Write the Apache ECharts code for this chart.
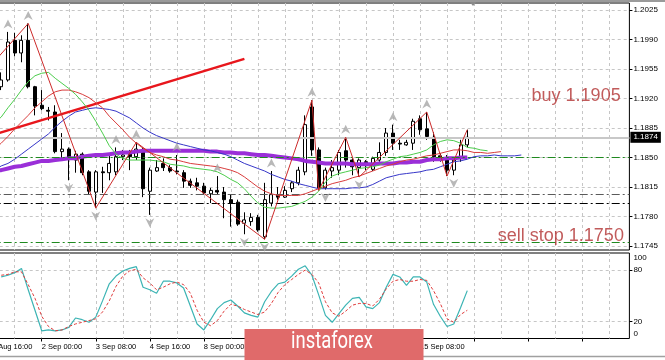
<!DOCTYPE html>
<html><head><meta charset="utf-8">
<script src="https://cdn.jsdelivr.net/npm/echarts@6/dist/echarts.min.js"></script>
<style>html,body{margin:0;padding:0;background:#fff;overflow:hidden}#c{width:665px;height:360px}</style>
</head><body><div id="c"></div>
<script>
// ---- axis / tick data ----
const firstBar = -2, lastBar = 93;
const tickLabels = ['31 Aug 16:00','2 Sep 00:00','3 Sep 08:00','4 Sep 16:00','8 Sep 00:00','9 Sep 08:00','10 Sep 16:00','14 Sep 00:00','15 Sep 08:00'];
const priceTicks = [1.1745,1.1780,1.1815,1.1850,1.1885,1.1920,1.1955,1.1990,1.2025];
const stochLabels = [0,20,80,100];
const stochLevels = [20,80];

// ---- EURUSD H4 candles, bars 0..69 ----
const open  = [1.1934,1.1942,1.1989,1.1974,1.1989,1.1934,1.1912,1.1906,1.1904,1.1857,
               1.1860,1.1847,1.1854,1.1833,1.1809,1.1833,1.1832,1.1833,1.1851,1.1855,
               1.1851,1.1859,1.1810,1.1834,1.1843,1.1838,1.1834,1.1832,1.1822,1.1820,
               1.1816,1.1807,1.1811,1.1809,1.1800,1.1797,1.1772,1.1774,1.1779,1.1756,
               1.1796,1.1806,1.1803,1.1813,1.1820,1.1833,1.1910,1.1859,1.1814,1.1834,
               1.1835,1.1858,1.1847,1.1838,1.1845,1.1836,1.1847,1.1856,1.1879,1.1867,
               1.1865,1.1867,1.1896,1.1884,1.1874,1.1852,1.1849,1.1835,1.1849,1.1865];
const high  = [1.1951,1.1999,1.1998,1.1995,1.2009,1.1935,1.1930,1.1910,1.1912,1.1879,
               1.1862,1.1858,1.1856,1.1835,1.1835,1.1839,1.1852,1.1862,1.1859,1.1859,
               1.1868,1.1862,1.1838,1.1847,1.1849,1.1841,1.1853,1.1835,1.1825,1.1826,
               1.1820,1.1814,1.1828,1.1815,1.1806,1.1800,1.1785,1.1784,1.1782,1.1820,
               1.1834,1.1815,1.1816,1.1822,1.1839,1.1900,1.1918,1.1862,1.1838,1.1847,
               1.1859,1.1874,1.1849,1.1849,1.1847,1.1851,1.1868,1.1885,1.1889,1.1871,
               1.1871,1.1896,1.1900,1.1904,1.1880,1.1855,1.1853,1.1849,1.1871,1.1883];
const low   = [1.1930,1.1940,1.1970,1.1963,1.1932,1.1900,1.1906,1.1894,1.1855,1.1849,
               1.1823,1.1832,1.1829,1.1806,1.1790,1.1808,1.1823,1.1829,1.1847,1.1835,
               1.1847,1.1803,1.1782,1.1833,1.1834,1.1832,1.1830,1.1814,1.1814,1.1811,
               1.1806,1.1796,1.1806,1.1778,1.1768,1.1769,1.1759,1.1769,1.1762,1.1753,
               1.1792,1.1800,1.1802,1.1809,1.1817,1.1829,1.1852,1.1811,1.1812,1.1826,
               1.1829,1.1838,1.1829,1.1827,1.1835,1.1834,1.1845,1.1852,1.1859,1.1859,
               1.1864,1.1859,1.1877,1.1871,1.1845,1.1845,1.1828,1.1829,1.1845,1.1862];
const close = [1.1942,1.1987,1.1974,1.1989,1.1934,1.1911,1.1908,1.1905,1.1857,1.1860,
               1.1848,1.1854,1.1832,1.1810,1.1833,1.1832,1.1843,1.1851,1.1853,1.1851,
               1.1860,1.1813,1.1835,1.1838,1.1838,1.1834,1.1833,1.1822,1.1817,1.1816,
               1.1808,1.1811,1.1809,1.1800,1.1796,1.1771,1.1776,1.1779,1.1764,1.1800,
               1.1806,1.1803,1.1811,1.1820,1.1835,1.1889,1.1859,1.1814,1.1835,1.1838,
               1.1856,1.1847,1.1839,1.1847,1.1841,1.1849,1.1856,1.1879,1.1867,1.1866,
               1.1868,1.1893,1.1883,1.1875,1.1851,1.1847,1.1835,1.1847,1.1865,1.1874];

// ---- moving averages (from bar -2) ----
const maPurple = [1.1833,1.1834,1.1835,1.1837,1.1839,1.1840,1.1842,1.1844,1.1846,1.1846,
                  1.1847,1.1848,1.1849,1.1849,1.1851,1.1852,1.1853,1.1853,1.1854,1.1855,
                  1.1856,1.1856,1.1857,1.1858,1.1858,1.1858,1.1858,1.1858,1.1858,1.1858,
                  1.1858,1.1858,1.1858,1.1857,1.1857,1.1856,1.1856,1.1855,1.1855,1.1854,
                  1.1853,1.1853,1.1852,1.1851,1.1850,1.1849,1.1848,1.1846,1.1845,1.1844,
                  1.1843,1.1843,1.1843,1.1843,1.1842,1.1842,1.1842,1.1842,1.1843,1.1843,
                  1.1843,1.1844,1.1844,1.1845,1.1845,1.1847,1.1848,1.1848,1.1849,1.1849,
                  1.1850,1.1850];
const maBlue = [1.1833,1.1835,1.1840,1.1843,1.1848,1.1854,1.1860,1.1866,1.1872,1.1878,
                1.1886,1.1893,1.1899,1.1904,1.1906,1.1908,1.1909,1.1908,1.1907,1.1905,
                1.1901,1.1897,1.1891,1.1885,1.1880,1.1876,1.1873,1.1870,1.1867,1.1865,
                1.1863,1.1861,1.1859,1.1858,1.1856,1.1854,1.1851,1.1847,1.1843,1.1840,
                1.1837,1.1834,1.1830,1.1827,1.1824,1.1822,1.1819,1.1817,1.1815,1.1813,
                1.1813,1.1813,1.1813,1.1813,1.1814,1.1814,1.1815,1.1818,1.1822,1.1826,
                1.1828,1.1830,1.1831,1.1832,1.1833,1.1835,1.1836,1.1839,1.1842,1.1845,
                1.1846,1.1848,1.1851,1.1852,1.1852,1.1853,1.1852,1.1852,1.1852,1.1853];
const maRed = [1.1853,1.1860,1.1867,1.1875,1.1884,1.1892,1.1900,1.1909,1.1916,1.1923,
               1.1928,1.1930,1.1930,1.1928,1.1925,1.1921,1.1915,1.1909,1.1899,1.1891,
               1.1883,1.1874,1.1867,1.1861,1.1856,1.1853,1.1851,1.1848,1.1847,1.1845,
               1.1843,1.1842,1.1841,1.1840,1.1839,1.1837,1.1835,1.1832,1.1827,1.1821,
               1.1815,1.1810,1.1807,1.1805,1.1805,1.1805,1.1805,1.1807,1.1810,1.1813,
               1.1816,1.1819,1.1821,1.1823,1.1826,1.1828,1.1831,1.1834,1.1837,1.1840,
               1.1842,1.1845,1.1847,1.1848,1.1850,1.1852,1.1853,1.1855,1.1857,1.1859,
               1.1859,1.1858,1.1856,1.1856,1.1855,1.1856,1.1857];
const maGreen = [1.1885,1.1891,1.1898,1.1909,1.1919,1.1930,1.1940,1.1947,1.1950,1.1951,
                 1.1944,1.1938,1.1932,1.1925,1.1916,1.1906,1.1893,1.1879,1.1864,1.1854,
                 1.1849,1.1847,1.1847,1.1847,1.1847,1.1846,1.1845,1.1842,1.1841,1.1840,
                 1.1838,1.1837,1.1836,1.1835,1.1833,1.1829,1.1824,1.1820,1.1813,1.1804,
                 1.1796,1.1791,1.1790,1.1790,1.1791,1.1792,1.1795,1.1798,1.1803,1.1810,
                 1.1821,1.1828,1.1831,1.1833,1.1835,1.1837,1.1838,1.1839,1.1841,1.1845,
                 1.1848,1.1851,1.1852,1.1854,1.1856,1.1859,1.1865,1.1869,1.1871,1.1870,
                 1.1867,1.1862,1.1861,1.1859,1.1858];

// ---- zigzag vertices [bar, price] ----
const zigzag = [[-2,1.1955],[4,1.2009],[14,1.1790],[20,1.1868],[39,1.1753],[46,1.1918],
                [47,1.1811],[51,1.1874],[53,1.1827],[63,1.1904],[66,1.1828],[69,1.1883]];
// ---- fractals (bar indices) ----
const upFractalBars = [1,4,17,20,26,32,40,46,51,58,63];
const downFractalBars = [10,14,22,36,39,48,53,67];

// ---- trend line and levels ----
const trendLine = [[-2,1.1875],[36,1.1967]];
const bidPrice = 1.1874;
const greenLevels = [1.1850,1.1750];
const grayLevel = 1.1807;
const blackLevel = 1.1796;
const notes = [{bar:78, price:1.1923, text:'buy 1.1905'},{bar:73, price:1.1757, text:'sell stop 1.1750'}];

// ---- stochastic, bars 0..69 ----
const stochK = [72,74,77,82,57,33,9,10,9,10,13,24,22,19,25,44,64,73,79,82,
                84,60,57,53,67,67,65,59,38,17,10,22,35,42,45,38,30,27,25,43,
                55,64,66,73,81,85,74,51,27,19,29,39,47,48,37,35,42,60,75,72,
                62,72,72,66,40,26,14,17,36,56];
const stochD = [74,75,78,78,63,47,26,14,9,10,14,17,19,21,23,31,44,61,73,79,
                81,71,65,57,60,64,66,63,53,33,19,15,21,32,40,38,34,31,28,31,
                41,54,63,69,75,80,75,65,43,30,26,32,39,41,41,38,46,58,67,69,
                67,67,69,68,56,41,23,19,28,33];

// ---- build ----
const cats = [];
for (let b = firstBar; b <= lastBar; b++) cats.push(String(b));
const lead = n => Array(n).fill('-');
const candleData = lead(-firstBar).concat(open.map((o, i) => [o, close[i], low[i], high[i]]));
const F = 'Liberation Sans, Arial, sans-serif';
const gridLine = {show: true, lineStyle: {color: '#c6c6c6', type: [3, 3], width: 1}};
const dashDot = [8, 3, 2, 3];

const chart = echarts.init(document.getElementById('c'), null, {renderer: 'canvas'});
chart.setOption({
  animation: false,
  backgroundColor: '#ffffff',
  textStyle: {fontFamily: F},
  grid: [
    {left: -12.3, width: 641.7, top: 3, height: 247, show: true, borderColor: '#000', borderWidth: 1,
     outerBoundsMode: 'none', containLabel: false},
    {left: -12.3, width: 641.7, top: 253, height: 85.5, show: true, borderColor: '#000', borderWidth: 1,
     outerBoundsMode: 'none', containLabel: false}
  ],
  xAxis: [
    {type: 'category', gridIndex: 0, data: cats, boundaryGap: false,
     axisLine: {show: false}, axisTick: {show: false}, axisLabel: {show: false},
     splitLine: Object.assign({interval: 3}, gridLine)},
    {type: 'category', gridIndex: 1, data: cats, boundaryGap: false,
     axisLine: {show: false},
     axisTick: {show: true, interval: 7, length: 3, lineStyle: {color: '#000'}},
     axisLabel: {interval: 7, align: 'left', margin: 4, fontSize: 7.5, color: '#000', fontFamily: F,
       formatter: (v, i) => tickLabels[i / 8] || ''},
     splitLine: Object.assign({interval: 3}, gridLine)}
  ],
  yAxis: [
    {type: 'value', gridIndex: 0, position: 'right', min: 1.17403, max: 1.20333,
     axisLine: {show: false},
     axisTick: {show: true, length: 3, customValues: priceTicks, lineStyle: {color: '#000'}},
     axisLabel: {customValues: priceTicks, formatter: v => Number(v).toFixed(4), fontSize: 8, color: '#000', margin: 4, fontFamily: F},
     splitLine: gridLine},
    {type: 'value', gridIndex: 1, position: 'right', min: 0, max: 100,
     axisLine: {show: false},
     axisTick: {show: true, length: 3, customValues: stochLevels, lineStyle: {color: '#000'}},
     axisLabel: {customValues: stochLabels, fontSize: 8, color: '#000', margin: 4, fontFamily: F,
       formatter: v => v === 100 ? '{t|100}' : (v === 0 ? '{b|0}' : String(v)),
       rich: {t: {padding: [9, 0, 0, 0], fontSize: 8, fontFamily: F}, b: {padding: [0, 0, 9, 0], fontSize: 8, fontFamily: F}}},
     splitLine: gridLine}
  ],
  series: [
    {type: 'candlestick', xAxisIndex: 0, yAxisIndex: 0, data: candleData, barWidth: 3.5,
     itemStyle: {color: '#ffffff', color0: '#000000', borderColor: '#000000', borderColor0: '#000000', borderWidth: 1},
     z: 3,
     markLine: {silent: true, symbol: ['none', 'none'], animation: false, precision: 5, label: {show: false},
       data: [
         {yAxis: bidPrice, lineStyle: {color: '#c8c8c8', width: 2, type: 'solid'},
          label: {show: true, position: 'end', formatter: bidPrice.toFixed(4), backgroundColor: '#000', color: '#fff',
                  padding: [2, 3, 1, 3], fontSize: 8, distance: 1, fontFamily: F}},
         {yAxis: greenLevels[0], lineStyle: {color: '#1f8a1f', width: 1, type: dashDot}},
         {yAxis: greenLevels[1], lineStyle: {color: '#1f8a1f', width: 1, type: dashDot}},
         {yAxis: grayLevel, lineStyle: {color: '#5a5a5a', width: 1, type: dashDot}},
         {yAxis: blackLevel, lineStyle: {color: '#000', width: 1, type: dashDot}},
         [{coord: [String(trendLine[0][0]), trendLine[0][1]]},
          {coord: [String(trendLine[1][0]), trendLine[1][1]], lineStyle: {color: '#e8161c', width: 2.5, type: 'solid'}}]
       ]}},
    {type: 'line', name: 'purple', data: maPurple, symbol: 'none', lineStyle: {color: '#9a2fd8', width: 4}, z: 4},
    {type: 'line', name: 'jaw', data: maBlue, symbol: 'none', lineStyle: {color: '#3636c8', width: 1}, z: 5},
    {type: 'line', name: 'teeth', data: maRed, symbol: 'none', lineStyle: {color: '#d83c3c', width: 1}, z: 5},
    {type: 'line', name: 'lips', data: maGreen, symbol: 'none', lineStyle: {color: '#4ccc4c', width: 1}, z: 5},
    {type: 'line', name: 'zigzag', data: zigzag.map(p => [String(p[0]), p[1]]), symbol: 'none',
     lineStyle: {color: '#cc2a2a', width: 1}, z: 6},
    {type: 'scatter', data: upFractalBars.map(b => [String(b), high[b]]),
     symbol: 'path://M5 0 L10 10 L5 7 L0 10 Z', symbolSize: [9, 9], symbolOffset: [0, -8],
     itemStyle: {color: '#a6a6a6'}, z: 6},
    {type: 'scatter', data: downFractalBars.map(b => [String(b), low[b]]),
     symbol: 'path://M0 0 L5 3 L10 0 L5 10 Z', symbolSize: [9, 9], symbolOffset: [0, 8],
     itemStyle: {color: '#a6a6a6'}, z: 6},
    {type: 'scatter', data: notes.map(n => [String(n.bar), n.price]), symbolSize: 0, z: 7,
     label: {show: true, position: 'right', distance: 3.5, color: '#b23232', fontSize: 18, fontFamily: F,
             formatter: p => notes[p.dataIndex].text}},
    {type: 'line', xAxisIndex: 1, yAxisIndex: 1, data: lead(-firstBar).concat(stochK), symbol: 'none',
     lineStyle: {color: '#3cb4b4', width: 1.2}, z: 4},
    {type: 'line', xAxisIndex: 1, yAxisIndex: 1, data: lead(-firstBar).concat(stochD), symbol: 'none',
     lineStyle: {color: '#e03c3c', width: 1, type: [3, 2]}, z: 4}
  ],
  graphic: [
    {type: 'polygon', shape: {points: [[469, 1], [477, 1], [473, 6]]}, style: {fill: '#8a8a8a'}, z: 10},
    {type: 'line', shape: {x1: 0, y1: 1, x2: 665, y2: 1}, style: {stroke: '#9a9a9a', lineWidth: 2}, z: 10},
    {type: 'line', shape: {x1: 0, y1: 356.5, x2: 665, y2: 356.5}, style: {stroke: '#a0a0a0', lineWidth: 1.5}, z: 10},
    {type: 'rect', shape: {x: 244.5, y: 329, width: 179, height: 31}, style: {fill: '#e06a6a'}, z: 20},
    {type: 'text', x: 332, y: 342.5, scaleX: 0.8, originX: 0, originY: 0,
     style: {text: 'instaforex', fill: '#ffffff', font: '23px Roboto, "Open Sans", sans-serif', textAlign: 'center', textVerticalAlign: 'middle'}, z: 21}
  ]
});
</script>
</body></html>
